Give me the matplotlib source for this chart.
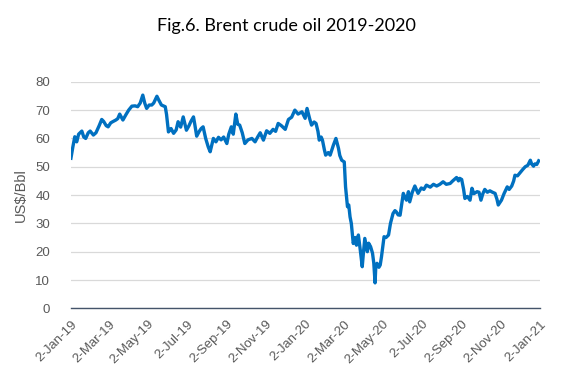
import matplotlib
matplotlib.use("Agg")
import matplotlib.pyplot as plt
import pandas as pd

dates = [
    "2019-01-02","2019-01-05","2019-01-08","2019-01-11","2019-01-14","2019-01-19","2019-01-22","2019-01-25","2019-01-29",
    "2019-02-01","2019-02-06","2019-02-10","2019-02-15","2019-02-19","2019-02-22","2019-02-26",
    "2019-03-01","2019-03-05","2019-03-08","2019-03-13","2019-03-16","2019-03-19","2019-03-24","2019-03-29",
    "2019-04-02","2019-04-07","2019-04-12","2019-04-16","2019-04-20","2019-04-24","2019-04-27","2019-04-30",
    "2019-05-04","2019-05-08","2019-05-11","2019-05-16","2019-05-19","2019-05-23","2019-05-29","2019-05-31",
    "2019-06-03","2019-06-07","2019-06-11","2019-06-15","2019-06-18","2019-06-22","2019-06-26",
    "2019-07-01","2019-07-05","2019-07-08","2019-07-12","2019-07-14","2019-07-17","2019-07-21","2019-07-24","2019-07-27","2019-07-31",
    "2019-08-04","2019-08-07","2019-08-12","2019-08-16","2019-08-20","2019-08-24","2019-08-28",
    "2019-09-02","2019-09-05","2019-09-09","2019-09-12","2019-09-16","2019-09-19","2019-09-22","2019-09-26","2019-09-30",
    "2019-10-05","2019-10-11","2019-10-16","2019-10-20","2019-10-24","2019-10-29",
    "2019-11-03","2019-11-08","2019-11-13","2019-11-17","2019-11-21","2019-11-26",
    "2019-12-02","2019-12-07","2019-12-12","2019-12-17","2019-12-22","2019-12-28",
    "2020-01-02","2020-01-05","2020-01-09","2020-01-12","2020-01-16","2020-01-19","2020-01-22","2020-01-24","2020-01-27","2020-01-29",
    "2020-02-01","2020-02-03","2020-02-07","2020-02-10","2020-02-15","2020-02-19","2020-02-23","2020-02-25","2020-02-28",
    "2020-03-03","2020-03-05","2020-03-08","2020-03-10","2020-03-12","2020-03-14","2020-03-17","2020-03-20","2020-03-22","2020-03-25","2020-03-28","2020-03-31",
    "2020-04-02","2020-04-04","2020-04-08","2020-04-10","2020-04-13","2020-04-16","2020-04-18","2020-04-20","2020-04-21","2020-04-23","2020-04-26","2020-04-28","2020-04-30",
    "2020-05-04","2020-05-07","2020-05-11","2020-05-14","2020-05-18","2020-05-21","2020-05-23","2020-05-26","2020-05-29","2020-05-31",
    "2020-06-03","2020-06-06","2020-06-08","2020-06-11","2020-06-13","2020-06-17","2020-06-21","2020-06-26",
    "2020-07-01","2020-07-05","2020-07-09","2020-07-15","2020-07-20","2020-07-25","2020-07-30",
    "2020-08-04","2020-08-09","2020-08-15","2020-08-19","2020-08-25","2020-08-28","2020-08-30",
    "2020-09-02","2020-09-05","2020-09-07","2020-09-11","2020-09-15","2020-09-18","2020-09-21","2020-09-26","2020-09-29",
    "2020-10-02","2020-10-05","2020-10-08","2020-10-12","2020-10-16","2020-10-20","2020-10-24","2020-10-27","2020-10-29",
    "2020-11-01","2020-11-03","2020-11-07","2020-11-12","2020-11-15","2020-11-19","2020-11-22","2020-11-24","2020-11-28",
    "2020-12-02","2020-12-06","2020-12-10","2020-12-14","2020-12-18","2020-12-20","2020-12-23","2020-12-25","2020-12-28","2020-12-31",
]

prices = [
    53.0,57.0,60.6,58.8,61.5,62.6,60.5,60.0,62.0,
    62.6,61.2,62.0,64.5,66.7,66.0,64.5,
    64.1,65.5,65.9,66.5,67.0,68.6,66.5,68.5,
    70.0,71.4,71.5,71.2,72.5,75.3,72.5,70.6,
    71.8,71.8,72.5,74.9,73.5,71.8,71.2,68.5,
    62.3,63.5,61.8,63.0,65.9,64.0,67.6,
    62.9,64.5,66.0,67.6,65.0,60.8,62.5,63.5,64.1,60.0,
    57.0,55.3,60.0,58.8,60.4,59.5,60.5,
    58.2,61.5,64.1,61.5,68.6,65.0,64.7,62.0,58.2,
    59.5,60.0,58.8,60.5,62.0,59.4,
    62.7,61.8,63.2,62.5,65.3,64.5,
    63.2,66.7,67.5,70.0,68.6,69.4,
    67.1,70.6,67.0,64.7,65.8,65.3,62.5,59.4,60.5,59.4,
    56.0,54.1,55.0,54.1,57.6,60.0,56.5,54.0,52.3,
    51.7,42.9,35.9,36.5,32.3,30.0,22.9,25.0,22.3,25.9,20.5,14.7,
    20.0,24.7,20.0,23.0,21.8,19.5,16.0,9.0,14.0,15.9,14.5,15.3,18.2,
    25.3,25.0,25.9,30.0,33.5,34.5,34.1,33.0,32.9,36.0,
    40.6,39.0,38.2,41.2,37.6,41.0,43.2,40.6,
    42.5,42.0,43.5,42.8,43.8,43.2,43.8,
    44.7,43.8,44.1,45.0,46.2,45.0,45.9,
    45.5,42.0,38.8,39.5,38.2,42.4,40.5,41.2,41.0,
    38.2,40.5,42.0,41.0,41.5,41.0,40.6,38.5,36.5,
    37.5,38.2,40.5,42.9,42.0,43.2,45.0,47.0,46.8,
    47.9,49.0,50.0,50.5,52.3,51.0,50.2,51.0,50.8,52.1,
]

tick_dates = ["2019-01-02","2019-03-02","2019-05-02","2019-07-02","2019-09-02","2019-11-02",
              "2020-01-02","2020-03-02","2020-05-02","2020-07-02","2020-09-02","2020-11-02","2021-01-02"]
tick_labels = ["2-Jan-19","2-Mar-19","2-May-19","2-Jul-19","2-Sep-19","2-Nov-19",
               "2-Jan-20","2-Mar-20","2-May-20","2-Jul-20","2-Sep-20","2-Nov-20","2-Jan-21"]
y_ticks = [0, 10, 20, 30, 40, 50, 60, 70, 80]

title = "Fig.6. Brent crude oil 2019-2020"
y_label = "US$/Bbl"

x = pd.to_datetime(dates)
xt = pd.to_datetime(tick_dates)

fig = plt.figure(figsize=(5.72, 3.84), dpi=100)
ax = fig.add_axes([0.124, 0.197, 0.820, 0.590])

ax.plot(x, prices, color="#0070C0", linewidth=2.4, solid_joinstyle="round", zorder=3)

ax.set_xlim(xt[0], xt[-1])
ax.set_ylim(0, 80)
ax.set_yticks(y_ticks)
ax.set_xticks(xt)
ax.set_xticklabels(tick_labels, rotation=45, ha="right", rotation_mode="anchor",
                   fontsize=9.5, color="#595959", family="Liberation Sans")
for lbl in ax.get_yticklabels():
    lbl.set_fontsize(9.5)
    lbl.set_color("#595959")
    lbl.set_family("Liberation Sans")

ax.tick_params(axis="both", length=0)
ax.tick_params(axis="x", pad=7)
ax.tick_params(axis="y", pad=15)

ax.grid(axis="y", color="#D9D9D9", linewidth=0.9)
ax.set_axisbelow(True)
for s in ["top", "right", "left"]:
    ax.spines[s].set_visible(False)
ax.spines["bottom"].set_color("#44546A")
ax.spines["bottom"].set_linewidth(1.0)
ax.spines["bottom"].set_zorder(4)

ax.set_ylabel(y_label, fontsize=10.5, color="#595959", family="Liberation Sans", labelpad=5)

fig.text(0.5, 0.933, title, ha="center", va="center", fontsize=13, color="#000000", family="Lato")

fig.savefig("out.png", dpi=100)
